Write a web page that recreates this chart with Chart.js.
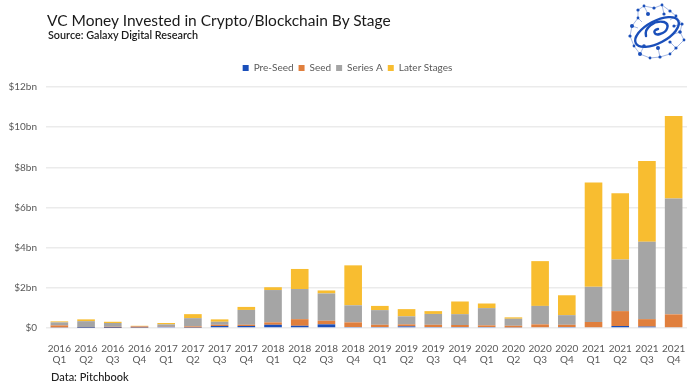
<!DOCTYPE html>
<html>
<head>
<meta charset="utf-8">
<script src="https://cdn.jsdelivr.net/npm/chart.js@4.4.1/dist/chart.umd.min.js"></script>
<style>
  html, body { margin: 0; padding: 0; background: #fff; }
  #wrap { position: relative; width: 700px; height: 387px; font-family: Lato, "Open Sans", sans-serif; }
  #chart { position: absolute; left: 0; top: 0; }
  .title { position: absolute; left: 47px; top: 10px; font-size: 15.5px; line-height: 20px; color: #1a1a1a; white-space: nowrap; }
  .sub { position: absolute; left: 48px; top: 28px; font-size: 10.8px; line-height: 14px; font-weight: 600; color: #1a1a1a; white-space: nowrap; }
  .foot { position: absolute; left: 51px; top: 370px; font-size: 11px; line-height: 13px; font-weight: 500; color: #222; white-space: nowrap; }
  #logo { position: absolute; left: 624px; top: 2px; }
</style>
</head>
<body>
<div id="wrap">
  <canvas id="chart" width="700" height="387"></canvas>
  <div class="title">VC Money Invested in Crypto/Blockchain By Stage</div>
  <div class="sub">Source: Galaxy Digital Research</div>
  <div class="foot">Data: Pitchbook</div>
  <svg id="logo" width="66" height="60" viewBox="0 0 66 60">
    <g stroke="#7f9bd8" stroke-width="0.7" fill="none">
      <path d="M14 8 L20 4 L30 6 L38 3 L46 9 L52 14 L58 22 L56 30 L60 38 L52 46 L46 52 L36 55 L26 56 L16 52 L10 44 L6 34 L8 24 L14 16 Z"/>
      <path d="M20 4 L24 12 M38 3 L40 12 M52 14 L46 18 M58 22 L50 24 M56 30 L50 32 M52 46 L46 40 M36 55 L34 46 M16 52 L20 44 M8 24 L14 26 M14 16 L18 20"/>
    </g>
    <g fill="#1a4fba">
      <circle cx="14" cy="8" r="1.6"/><circle cx="20" cy="4" r="1.4"/><circle cx="30" cy="6" r="1.6"/>
      <circle cx="38" cy="3" r="1.4"/><circle cx="46" cy="9" r="1.6"/><circle cx="52" cy="14" r="1.4"/>
      <circle cx="58" cy="22" r="1.6"/><circle cx="56" cy="30" r="1.8"/><circle cx="60" cy="38" r="1.4"/>
      <circle cx="52" cy="46" r="1.6"/><circle cx="46" cy="52" r="1.4"/><circle cx="36" cy="55" r="1.6"/>
      <circle cx="26" cy="56" r="1.4"/><circle cx="16" cy="52" r="2"/><circle cx="10" cy="44" r="1.4"/>
      <circle cx="6" cy="34" r="1.6"/><circle cx="8" cy="24" r="2"/><circle cx="14" cy="16" r="1.4"/>
      <circle cx="24" cy="12" r="2"/><circle cx="40" cy="12" r="1.6"/><circle cx="20" cy="44" r="1.8"/>
      <circle cx="34" cy="46" r="2"/><circle cx="46" cy="40" r="1.6"/><circle cx="50" cy="24" r="1.6"/>
    </g>
    <g stroke="#1a4fba" stroke-width="2.4" fill="none" stroke-linecap="round">
      <ellipse cx="33" cy="30" rx="24" ry="11" transform="rotate(-28 33 30)"/>
      <path d="M22 34 C20 26 30 18 40 20 C46 22 44 30 36 32 C30 34 28 28 34 27"/>
    </g>
  </svg>
</div>
<script>
const categories = [
  ['2016', 'Q1'], ['2016', 'Q2'], ['2016', 'Q3'], ['2016', 'Q4'],
  ['2017', 'Q1'], ['2017', 'Q2'], ['2017', 'Q3'], ['2017', 'Q4'],
  ['2018', 'Q1'], ['2018', 'Q2'], ['2018', 'Q3'], ['2018', 'Q4'],
  ['2019', 'Q1'], ['2019', 'Q2'], ['2019', 'Q3'], ['2019', 'Q4'],
  ['2020', 'Q1'], ['2020', 'Q2'], ['2020', 'Q3'], ['2020', 'Q4'],
  ['2021', 'Q1'], ['2021', 'Q2'], ['2021', 'Q3'], ['2021', 'Q4']
];

// $bn
const preSeed = [0.03, 0.01, 0.01, 0.02, 0.06, 0.02, 0.10, 0.10, 0.16, 0.11, 0.18, 0.05,
                 0.05, 0.08, 0.05, 0.05, 0.05, 0.03, 0.04, 0.05, 0.04, 0.10, 0.07, 0.04];
const seed = [0.10, 0.02, 0.05, 0.06, 0.02, 0.06, 0.06, 0.06, 0.12, 0.33, 0.18, 0.23,
              0.11, 0.10, 0.11, 0.10, 0.08, 0.08, 0.14, 0.11, 0.26, 0.74, 0.37, 0.64];
const seriesA = [0.15, 0.31, 0.19, 0.02, 0.10, 0.41, 0.15, 0.74, 1.61, 1.50, 1.36, 0.85,
                 0.73, 0.40, 0.54, 0.54, 0.86, 0.35, 0.92, 0.48, 1.75, 2.57, 3.86, 5.77];
const laterStages = [0.05, 0.09, 0.06, 0.01, 0.07, 0.20, 0.12, 0.15, 0.14, 1.00, 0.15, 1.99,
                     0.21, 0.36, 0.14, 0.63, 0.23, 0.07, 2.23, 0.99, 5.19, 3.30, 4.02, 4.11];

const yTicks = [0, 2, 4, 6, 8, 10, 12];

const grey = '#595959';

function ds(label, data, color) {
  return {
    label: label,
    data: data,
    backgroundColor: color,
    borderWidth: 0,
    barPercentage: 0.66,
    categoryPercentage: 1
  };
}

new Chart(document.getElementById('chart'), {
  type: 'bar',
  data: {
    labels: categories,
    datasets: [
      ds('Pre-Seed', preSeed, '#1a4fba'),
      ds('Seed', seed, '#e07f3d'),
      ds('Series A', seriesA, '#a5a5a5'),
      ds('Later Stages', laterStages, '#f8bd30')
    ]
  },
  options: {
    responsive: false,
    animation: false,
    layout: { padding: { top: 58, left: 8, right: 13, bottom: 19 } },
    plugins: {
      tooltip: { enabled: false },
      legend: {
        position: 'top',
        labels: {
          boxWidth: 6,
          boxHeight: 6,
          padding: 5,
          color: grey,
          font: { family: 'Lato', size: 10 }
        }
      }
    },
    scales: {
      x: {
        stacked: true,
        grid: { display: false },
        border: { display: false },
        ticks: {
          color: grey,
          padding: 7,
          maxRotation: 0,
          autoSkip: false,
          font: { family: 'Lato', size: 10, lineHeight: 1.15 }
        },
        afterFit: function(s) { s.height = 40; }
      },
      y: {
        stacked: true,
        min: 0,
        max: 12.2,
        afterBuildTicks: function(s) { s.ticks = yTicks.map(v => ({ value: v })); },
        grid: { color: '#ebebeb', lineWidth: 1.5, drawTicks: false },
        border: { display: false },
        ticks: {
          color: grey,
          padding: 9,
          font: { family: 'Lato', size: 10 },
          callback: v => v === 0 ? '$0' : '$' + v + 'bn'
        },
        afterFit: function(s) { s.width = 38; }
      }
    }
  }
});
</script>
</body>
</html>
